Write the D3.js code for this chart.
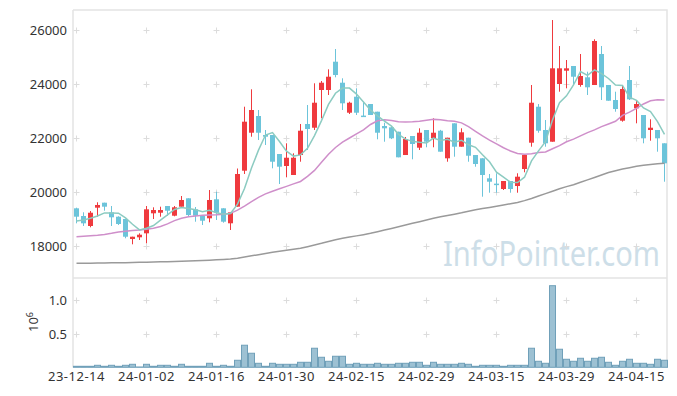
<!DOCTYPE html>
<html><head><meta charset="utf-8">
<script src="https://cdn.jsdelivr.net/npm/d3@7"></script>
<style>body{margin:0;background:#fff;} svg{display:block;font-family:"Noto Sans",sans-serif;}</style>
</head><body><svg id="c" width="677" height="396"></svg>
<script>
const dates = ["2023-12-14","2023-12-15","2023-12-18","2023-12-19","2023-12-20","2023-12-21","2023-12-22","2023-12-26","2023-12-27","2023-12-28",
"2024-01-02","2024-01-03","2024-01-04","2024-01-05","2024-01-08","2024-01-09","2024-01-10","2024-01-11","2024-01-12","2024-01-15",
"2024-01-16","2024-01-17","2024-01-18","2024-01-19","2024-01-22","2024-01-23","2024-01-24","2024-01-25","2024-01-26","2024-01-29",
"2024-01-30","2024-01-31","2024-02-01","2024-02-02","2024-02-05","2024-02-06","2024-02-07","2024-02-08","2024-02-13","2024-02-14",
"2024-02-15","2024-02-16","2024-02-19","2024-02-20","2024-02-21","2024-02-22","2024-02-23","2024-02-26","2024-02-27","2024-02-28",
"2024-02-29","2024-03-04","2024-03-05","2024-03-06","2024-03-07","2024-03-08","2024-03-11","2024-03-12","2024-03-13","2024-03-14",
"2024-03-15","2024-03-18","2024-03-19","2024-03-20","2024-03-21","2024-03-22","2024-03-25","2024-03-26","2024-03-27","2024-03-28",
"2024-03-29","2024-04-01","2024-04-02","2024-04-03","2024-04-04","2024-04-05","2024-04-08","2024-04-09","2024-04-11","2024-04-12",
"2024-04-15","2024-04-16","2024-04-17","2024-04-18","2024-04-19"];

const open = [19396,19111,18741,19419,19604,19248,19085,19000,18259,18322,
18470,19211,19233,19481,19122,19456,19767,19359,19122,19026,
19730,19396,18841,19456,20789,22196,22815,22111,22111,21407,
20963,20630,21370,22519,22381,23778,23778,24826,24048,22937,
23530,22830,23259,22974,22444,22396,22233,21370,22074,21641,
22296,21989,22270,21248,22544,21678,22011,21370,21248,20507,
20310,20111,20407,20222,20852,21826,23159,22296,21863,24000,
24493,24667,23963,24248,23963,25111,23963,23407,22641,24148,
23100,22852,22296,22296,21804];
const high = [19420,19248,19296,19619,19604,19481,19100,19000,18344,18470,
19481,19433,19456,19481,19481,19852,19767,19444,19148,20074,
20011,19400,19260,20870,23159,23804,23037,22296,22111,21407,
21804,21433,22519,23222,24026,24111,24544,25296,24211,23344,
23841,23344,23259,22974,22567,22420,22233,22037,22074,22359,
22296,22730,22300,22011,22544,22359,22011,21370,21248,20667,
20693,20407,20407,20693,21370,23963,23259,22667,26370,25407,
24889,24667,25111,24456,25656,25407,23963,23715,23963,24667,
23407,22852,22693,22296,21804];
const low = [18840,18741,18693,19085,19307,18741,18778,18285,18063,18222,
18100,19000,19085,19111,19100,19456,19085,18900,18778,18878,
18963,18863,18593,19456,20667,22048,21926,21741,20878,20296,
20544,20630,21122,21556,22296,22730,23593,24248,23037,22889,
22852,22790,22852,21952,21863,21960,21285,21370,21211,21556,
21656,21656,21493,21122,21307,21678,21122,20937,19826,19974,
19974,20074,19974,19974,20730,21678,22196,21678,21863,23715,
23841,24000,23900,23593,23963,23407,23381,22974,22604,23407,
22544,21804,21900,21493,20381];
const close = [19086,18840,19233,19519,19456,19063,18815,18344,18344,18419,
19359,19333,19333,19307,19433,19704,19148,19122,18937,19704,
19233,18900,19248,20667,22604,23037,22196,22048,21122,20937,
21270,21270,22270,22333,23307,24048,24270,24333,23285,23307,
22937,22800,22852,22196,22359,21989,21285,21963,21778,22196,
21863,22196,21493,22011,21678,22211,21344,21037,20630,20381,
20290,20407,20111,20567,21370,23307,22270,21804,24581,24581,
24581,24270,24296,23878,25593,23878,23381,23074,23815,23433,
23259,21989,22381,21989,21063];
const volume = [15000,15000,15000,30000,15000,30000,15000,30000,45000,5000,
45000,15000,30000,30000,15000,45000,15000,15000,15000,60000,
15000,30000,15000,105000,330000,210000,60000,15000,60000,45000,
45000,45000,75000,75000,285000,150000,90000,165000,165000,45000,
60000,45000,45000,60000,45000,45000,60000,60000,75000,75000,
30000,75000,45000,45000,45000,60000,45000,15000,30000,30000,
30000,15000,30000,30000,30000,285000,90000,60000,1220000,270000,
120000,90000,135000,90000,135000,150000,75000,30000,90000,120000,
60000,60000,45000,120000,105000];
// closes of the four sessions before the first date (for the 5-day average)
const priorCloses = [18655,18918,19094,18877];
const ma20 = [18344,18360,18380,18400,18430,18470,18520,18550,18570,18590,
18620,18660,18720,18820,18940,19030,19080,19110,19140,19150,
19160,19180,19210,19330,19480,19640,19800,19930,20030,20120,
20210,20300,20390,20580,20800,21100,21400,21650,21850,22000,
22150,22300,22500,22640,22680,22650,22600,22590,22600,22620,
22660,22690,22680,22640,22620,22560,22420,22250,22080,21920,
21780,21640,21520,21430,21400,21420,21460,21480,21600,21720,
21860,21960,22080,22200,22300,22420,22520,22620,22840,22960,
23100,23260,23380,23420,23410];
const maLong = [17359,17362,17365,17368,17372,17376,17380,17384,17390,17396,
17402,17408,17414,17420,17428,17436,17444,17452,17462,17474,
17488,17502,17516,17550,17590,17635,17680,17725,17765,17805,
17840,17880,17915,17975,18040,18100,18170,18235,18285,18330,
18375,18420,18470,18530,18590,18650,18710,18775,18840,18900,
18960,19025,19080,19130,19180,19230,19290,19340,19385,19430,
19475,19520,19565,19610,19680,19760,19850,19940,20030,20120,
20200,20270,20360,20450,20540,20630,20720,20790,20850,20900,
20950,20990,21020,21045,21063];
const priceTicks = [18000,20000,22000,24000,26000];
const volumeTicks = [500000,1000000];
const tickDates = ["2023-12-14","2024-01-02","2024-01-16","2024-01-30","2024-02-15","2024-02-29","2024-03-15","2024-03-29","2024-04-15"];

const allCloses = priorCloses.concat(close);
const ma5 = close.map((c,i)=>d3.mean(allCloses.slice(i, i+5)));

const svg = d3.select("#c");
const L = 73, R = 668;
const x = d3.scaleBand().domain(dates).range([L, R]).padding(0);
const y = d3.scaleLinear().domain([16852, 26741]).range([277, 10]);
const yv = d3.scaleLinear().domain([0, 1335000]).range([367.3, 278]);
const cx = d => x(d) + x.bandwidth()/2;

// watermark
svg.append("text").attr("x", 443).attr("y", 266)
  .attr("font-size", 34).attr("textLength", 217).attr("lengthAdjust", "spacingAndGlyphs")
  .attr("fill", "#cddee8").text("InfoPointer.com");

// grid crosses
const crossPts = [];
tickDates.forEach(d => {
  priceTicks.forEach(p => crossPts.push([cx(d), y(p)]));
  volumeTicks.forEach(v => crossPts.push([cx(d), yv(v)]));
});
svg.append("path").attr("fill","none").attr("stroke","#dcdcdc").attr("stroke-width",1)
  .attr("d", crossPts.map(([a,b]) => `M${a-3},${Math.round(b)+0.5}H${a+3}M${a},${Math.round(b)-2.5}V${Math.round(b)+3.5}`).join(""));

// frames
const fr = svg.append("g").attr("stroke","#e4e4e4").attr("stroke-width",1.5).attr("fill","none");
fr.append("path").attr("d", `M${L},10H${R-1}V367.5M${L},10V367.5M${L},278H${R-1}`);

// volume bars
svg.append("g").selectAll("rect").data(dates).join("rect")
  .attr("x", d => x(d)+0.5).attr("width", x.bandwidth()-1)
  .attr("y", (d,i) => yv(volume[i])).attr("height", (d,i) => yv(0) - yv(volume[i]))
  .attr("fill", "#9dc1d3").attr("stroke", "#70a0b9").attr("stroke-width", 1);

// candles
const up = "#ef3a3e", down = "#6cc4da";
const cg = svg.append("g");
dates.forEach((d,i) => {
  const col = close[i] >= open[i] ? up : down;
  const c = cx(d);
  cg.append("line").attr("x1", c).attr("x2", c).attr("y1", y(high[i])).attr("y2", y(low[i]))
    .attr("stroke", col).attr("stroke-width", 1);
  const top = y(Math.max(open[i], close[i])), bot = y(Math.min(open[i], close[i]));
  cg.append("rect").attr("x", c-2.5).attr("width", 5).attr("y", top).attr("height", Math.max(1.5, bot-top))
    .attr("fill", col);
});

// moving averages
const line = arr => d3.line().x((v,i) => cx(dates[i])).y(v => y(v))(arr);
svg.append("path").attr("d", line(maLong)).attr("fill","none").attr("stroke","#9a9a9a").attr("stroke-width",1.5);
svg.append("path").attr("d", line(ma20)).attr("fill","none").attr("stroke","#cf8fca").attr("stroke-width",1.5);
svg.append("path").attr("d", line(ma5)).attr("fill","none").attr("stroke","#8ccbc1").attr("stroke-width",1.5);

// axes
const ya = svg.append("g").attr("transform", `translate(${L},0)`)
  .call(d3.axisLeft(y).tickValues(priceTicks).tickSize(0).tickPadding(6).tickFormat(d3.format("d")));
const yva = svg.append("g").attr("transform", `translate(${L},0)`)
  .call(d3.axisLeft(yv).tickValues(volumeTicks).tickSize(0).tickPadding(6).tickFormat(v => (v/1e6).toFixed(1)));
const xa = svg.append("g").attr("transform", `translate(0,367)`)
  .call(d3.axisBottom(x).tickValues(tickDates).tickSize(0).tickPadding(5).tickFormat(d => d.slice(2)));
[ya, yva, xa].forEach(g => {
  g.select(".domain").remove();
  g.selectAll("text").attr("font-size", 13).attr("fill", "#333").attr("font-family", "'Noto Sans',sans-serif");
});
xa.selectAll("text").attr("letter-spacing", "0.5px");

// 10^6 label
const ul = svg.append("text").attr("transform", "translate(37.5,332) rotate(-90)")
  .attr("font-size", 13).attr("fill", "#333");
ul.append("tspan").text("10");
ul.append("tspan").attr("dy", -5).attr("font-size", 9).text("6");
</script></body></html>
